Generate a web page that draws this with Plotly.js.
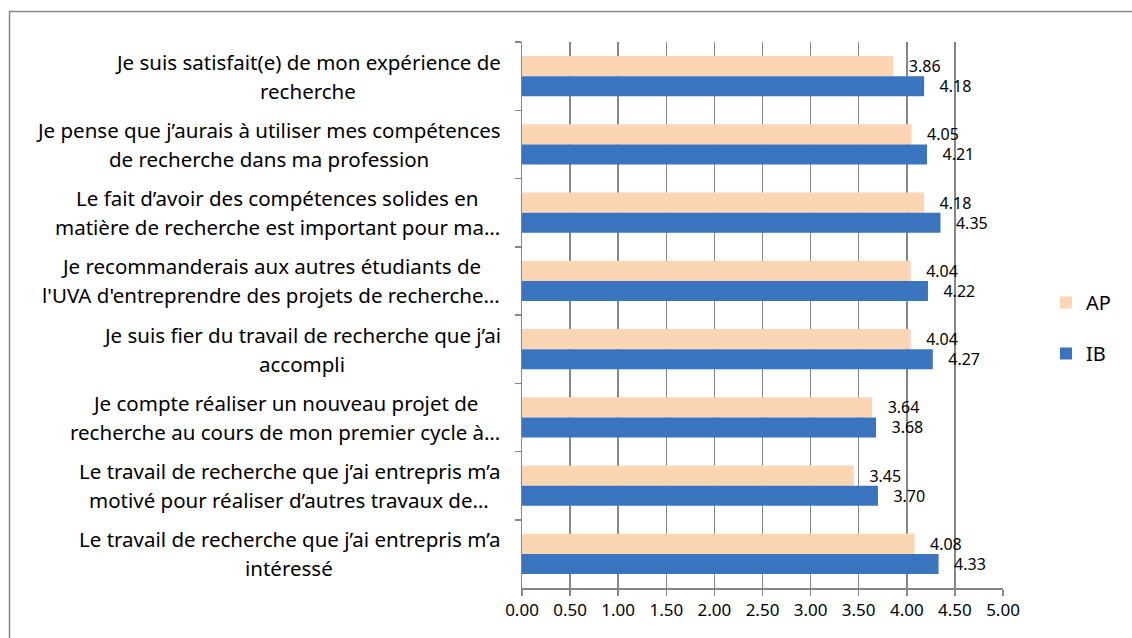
<!DOCTYPE html>
<html>
<head>
<meta charset="utf-8">
<script src="https://cdn.plot.ly/plotly-3.0.1.min.js"></script>
<style>
  body { margin: 0; background: #fff; }
  #chart { width: 1132px; height: 638px; }
</style>
</head>
<body>
<div id="chart"></div>
<script>
// categories, top to bottom, each as two lines
const categories = [
    ['Je suis satisfait(e) de mon expérience de', 'recherche'],
    ['Je pense que j’aurais à utiliser mes compétences', 'de recherche dans ma profession'],
    ['Le fait d’avoir des compétences solides en', 'matière de recherche est important pour ma…'],
    ['Je recommanderais aux autres étudiants de', "l'UVA d'entreprendre des projets de recherche…"],
    ['Je suis fier du travail de recherche que j’ai', 'accompli'],
    ['Je compte réaliser un nouveau projet de', 'recherche au cours de mon premier cycle à…'],
    ['Le travail de recherche que j’ai entrepris m’a', 'motivé pour réaliser d’autres travaux de…'],
    ['Le travail de recherche que j’ai entrepris m’a', 'intéressé']
];
const apValues = [3.86, 4.05, 4.18, 4.04, 4.04, 3.64, 3.45, 4.08];
const ibValues = [4.18, 4.21, 4.35, 4.22, 4.27, 3.68, 3.70, 4.33];
const xTicks = [0, 0.5, 1, 1.5, 2, 2.5, 3, 3.5, 4, 4.5, 5];

const W = 1132, H = 638;
const M = { l: 522, r: 129, t: 42, b: 50, autoexpand: false };
const plotW = W - M.l - M.r;
const plotH = H - M.t - M.b;
const labelFont = 'Noto Sans';
const labelSize = 20.5;
const gridColor = '#868686';

const yKeys = categories.map((c, i) => 'c' + i);

function barTrace(name, values, color) {
    return {
        type: 'bar',
        orientation: 'h',
        name: name,
        legendgroup: name,
        y: yKeys,
        x: values,
        marker: { color: color },
        text: values.map(v => v.toFixed(2)),
        textposition: 'outside',
        texttemplate: '   %{text}',
        constraintext: 'none',
        textfont: { family: labelFont, size: 16, color: '#000' },
        cliponaxis: false,
        hoverinfo: 'x'
    };
}

const apTrace = barTrace('AP', apValues, '#FCD5B5');
const ibTrace = barTrace('IB', ibValues, '#3A74BF');

// centred two-line labels, right edge of the widest line at x = 500px
const ctx = document.createElement('canvas').getContext('2d');
ctx.font = labelSize + 'px "' + labelFont + '"';
const annotations = [];
categories.forEach((lines, i) => {
    const blockW = Math.max(...lines.map(s => ctx.measureText(s).width));
    const cx = 500 - blockW / 2;
    lines.forEach((line, j) => {
        annotations.push({
            text: line,
            xref: 'paper', yref: 'y',
            x: (cx - M.l) / plotW,
            y: yKeys[i],
            xanchor: 'center', yanchor: 'middle',
            yshift: j === 0 ? 14.5 : -14.5,
            showarrow: false,
            font: { family: labelFont, size: labelSize, color: '#000' }
        });
    });
});

const layout = {
    width: W,
    height: H,
    margin: M,
    paper_bgcolor: '#fff',
    plot_bgcolor: '#fff',
    barmode: 'group',
    bargap: 0.41,
    bargroupgap: 0,
    showlegend: true,
    legend: {
        x: (1046 - M.l) / plotW,
        y: (H - M.b - 328) / plotH,
        xanchor: 'left',
        yanchor: 'middle',
        traceorder: 'grouped',
        tracegroupgap: 22,
        font: { family: labelFont, size: 20, color: '#000' }
    },
    xaxis: {
        range: [0, 5],
        tickvals: xTicks,
        ticktext: xTicks.map(v => v.toFixed(2)),
        showgrid: true,
        gridcolor: gridColor,
        gridwidth: 1.5,
        zeroline: false,
        showline: true,
        linecolor: gridColor,
        linewidth: 1.5,
        ticks: 'outside',
        ticklen: 6,
        tickcolor: gridColor,
        tickwidth: 1.5,
        tickfont: { family: labelFont, size: 17, color: '#000' }
    },
    yaxis: {
        type: 'category',
        autorange: 'reversed',
        showticklabels: false,
        showgrid: false,
        zeroline: false,
        showline: true,
        linecolor: gridColor,
        linewidth: 1.5,
        ticks: 'outside',
        tickson: 'boundaries',
        ticklen: 6,
        tickcolor: gridColor,
        tickwidth: 1.5
    },
    annotations: annotations,
    shapes: [{
        type: 'rect',
        xref: 'paper', yref: 'paper',
        x0: (9.5 - M.l) / plotW,
        x1: (W + 20 - M.l) / plotW,
        y0: -(H + 20 - (H - M.b)) / plotH,
        y1: (H - M.b - 11.5) / plotH,
        line: { color: '#8C8C8C', width: 1.5 },
        fillcolor: 'rgba(0,0,0,0)',
        layer: 'below'
    }]
};

Plotly.newPlot('chart', [apTrace, ibTrace], layout, { displayModeBar: false, staticPlot: true });
</script>
</body>
</html>
